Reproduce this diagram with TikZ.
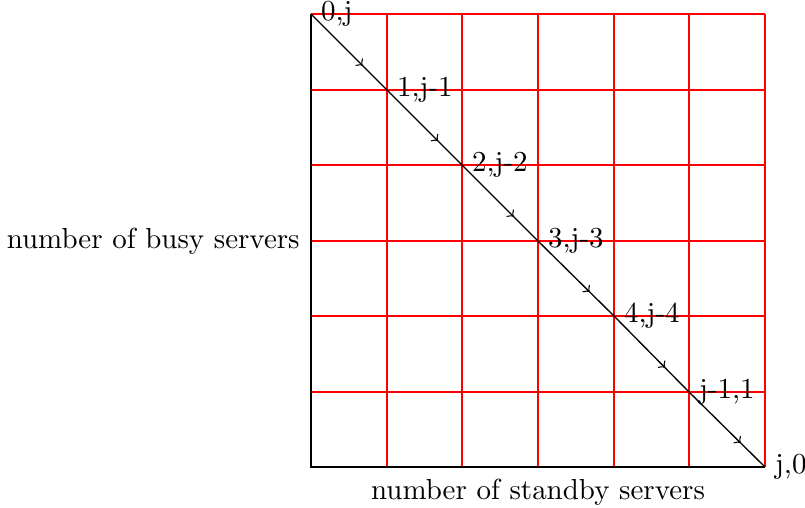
\documentclass[tikz,border=0pt]{standalone}
\usetikzlibrary{decorations.markings}
\begin{document}
\begin{tikzpicture}[x=0.3763pt,y=-0.3763pt,
  gridline/.style={red,line width=0.42pt},
  axisline/.style={black,line width=0.42pt},
  flowseg/.style={black,line width=0.5pt,postaction={decorate},
    decoration={markings,mark=at position 0.68 with {\arrow{>}}}},
  statelabel/.style={anchor=west,inner sep=3.6pt,font=\fontsize{10.9}{13}\selectfont},
  axislabel/.style={font=\fontsize{10.9}{13}\selectfont}]
\useasboundingbox (0,0) rectangle (805,508);
% grid
\foreach \gx in {311,387,462,538,614,689,765}
  \draw[gridline] (\gx,14) -- (\gx,467);
\foreach \gy in {14,90,165,241,316,392,467}
  \draw[gridline] (311,\gy) -- (765,\gy);
% axes
\coordinate (o) at (311,467);
\coordinate (ytop) at (311,14);
\coordinate (xend) at (765,467);
\draw[axisline] (ytop) -- (o) -- (xend);
% states
\coordinate (s0) at (311,14);
\coordinate (s1) at (387,90);
\coordinate (s2) at (462,165);
\coordinate (s3) at (538,241);
\coordinate (s4) at (614,316);
\coordinate (s5) at (689,392);
\coordinate (s6) at (765,467);
\foreach \a/\b in {s0/s1,s1/s2,s2/s3,s3/s4,s4/s5,s5/s6}
  \draw[flowseg] (\a) -- (\b);
\node[statelabel] (l0) at (s0) {0,j};
\node[statelabel] (l1) at (s1) {1,j-1};
\node[statelabel] (l2) at (s2) {2,j-2};
\node[statelabel] (l3) at (s3) {3,j-3};
\node[statelabel] (l4) at (s4) {4,j-4};
\node[statelabel] (l5) at (s5) {j-1,1};
\node[statelabel] (l6) at (s6) {j,0};
\node[axislabel,anchor=east] (ylab) at (309,241) {number of busy servers};
\node[axislabel,anchor=north] (xlab) at (538,470) {number of standby servers};
\end{tikzpicture}
\end{document}
